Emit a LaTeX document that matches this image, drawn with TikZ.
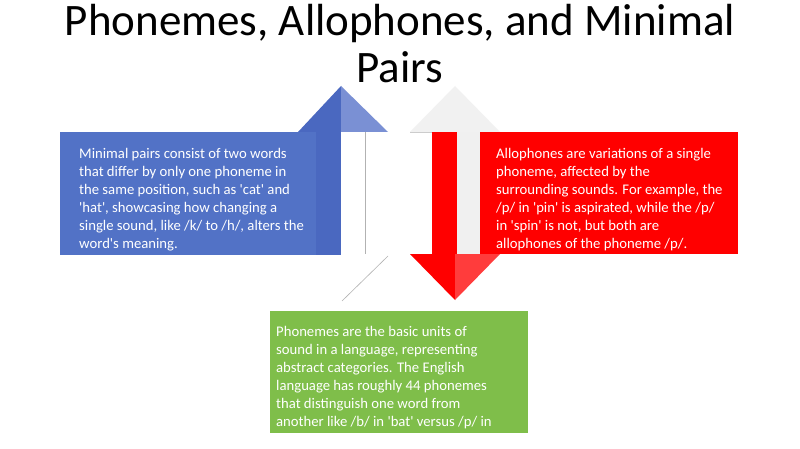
\documentclass[tikz,border=0pt]{standalone}
\usepackage{fontspec}
\setmainfont{Carlito}[Ligatures=TeXOff]
\usepackage{tikz}
\usetikzlibrary{calc}
\definecolor{pairblue}{HTML}{5272C6}
\definecolor{pairbluedark}{HTML}{4A68C0}
\definecolor{pairbluelight}{HTML}{7A90D4}
\definecolor{allored}{HTML}{FF0000}
\definecolor{alloredlight}{HTML}{FF3C3C}
\definecolor{phongreen}{HTML}{7FBE4A}
\definecolor{ghostgray}{HTML}{F1F1F1}
\tikzset{
    box/.style={draw=none, inner sep=0pt, anchor=north west},
    boxtext/.style={text=white, inner sep=0pt, anchor=base west, align=left,
        font=\fontsize{14.7}{18}\selectfont},
    edgeline/.style={draw=gray!60, line width=0.6pt}
}

\begin{document}
\begin{tikzpicture}[x=1pt, y=-1pt]
    \useasboundingbox (0,0) rectangle (800,449);
    \fill[white] (0,0) rectangle (800,449);
    % title (base = last line)
    \node[anchor=base, align=center, font=\fontsize{45}{47}\selectfont] (title) at (400,83)
        {Phonemes, Allophones, and Minimal\\Pairs};
    % up arrow (blue)
    \node[box, fill=pairblue, minimum width=280pt, minimum height=123pt] (minimal) at (60,132) {};
    \fill[pairbluedark] (316,132) rectangle (341,255);
    \fill[pairbluedark] (298,132) -- (341,86) -- (341,132) -- cycle;
    \fill[pairbluelight] (341,86) -- (388,132) -- (341,132) -- cycle;
    \draw[edgeline] (365,132) -- (365,254);
    % down arrow (red)
    \fill[ghostgray] (410,132) -- (455,86) -- (500,132) -- cycle;
    \fill[gray!12] (457,132) rectangle (480,254);
    \draw[edgeline, draw=gray!40] (410,132) -- (432,132);
    \fill[allored] (432,132) rectangle (457,254);
    \node[box, fill=allored, minimum width=258pt, minimum height=122pt] (allo) at (480,132) {};
    \fill[allored] (410,254) -- (455,254) -- (455,300) -- cycle;
    \fill[alloredlight] (455,254) -- (500,254) -- (455,300) -- cycle;
    % phonemes
    \node[box, fill=phongreen, minimum width=258pt, minimum height=122pt] (phon) at (270,311) {};
    \coordinate (linetop) at (388,256);
    \coordinate (linebot) at (342,301);
    \draw[edgeline] (linetop) -- (linebot);
    % texts (base = last line)
    \node[boxtext] (minimaltext) at (79,248) {Minimal pairs consist of two words\\
        that differ by only one phoneme in\\
        the same position, such as 'cat' and\\
        'hat', showcasing how changing a\\
        single sound, like /k/ to /h/, alters the\\
        word's meaning.};
    \node[boxtext] (allotext) at (496,248) {Allophones are variations of a single\\
        phoneme, affected by the\\
        surrounding sounds. For example, the\\
        /p/ in 'pin' is aspirated, while the /p/\\
        in 'spin' is not, but both are\\
        allophones of the phoneme /p/.};
    \node[boxtext] (phontext) at (276,426) {Phonemes are the basic units of\\
        sound in a language, representing\\
        abstract categories. The English\\
        language has roughly 44 phonemes\\
        that distinguish one word from\\
        another like /b/ in 'bat' versus /p/ in};
\end{tikzpicture}
\end{document}
